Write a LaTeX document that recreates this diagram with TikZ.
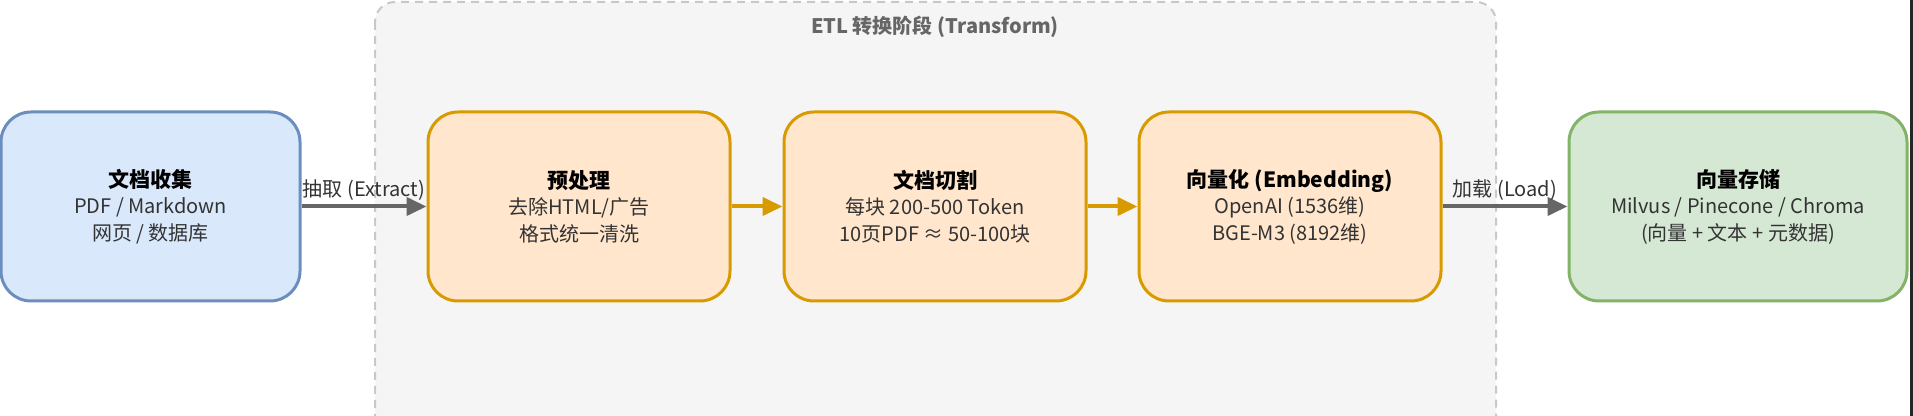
\documentclass[tikz,border=0pt]{standalone}
\usepackage{fontspec}
\setmainfont{Noto Sans CJK SC}
\usetikzlibrary{arrows.meta,positioning}
\definecolor{drawblue}{HTML}{6C8EBF}
\definecolor{fillblue}{HTML}{DAE8FC}
\definecolor{draworange}{HTML}{D79B00}
\definecolor{fillorange}{HTML}{FFE6CC}
\definecolor{drawgreen}{HTML}{82B366}
\definecolor{fillgreen}{HTML}{D5E8D4}
\definecolor{groupfill}{HTML}{F5F5F5}
\definecolor{groupline}{HTML}{C8C8C8}
\definecolor{linkgray}{HTML}{666666}
\definecolor{textgray}{HTML}{333333}

\begin{document}
\begin{tikzpicture}[
    x=0.5pt, y=-0.5pt,
    stage/.style={rectangle,rounded corners=15pt,line width=1.5pt,
      minimum height=94.5pt,align=center,text=textgray,
      font=\fontsize{10}{13.25}\selectfont},
    source/.style={stage,draw=drawblue,fill=fillblue,minimum width=149.5pt},
    etlstep/.style={stage,draw=draworange,fill=fillorange,minimum width=151pt},
    sink/.style={stage,draw=drawgreen,fill=fillgreen,minimum width=169pt},
    link/.style={-{Triangle[length=10pt,width=9pt]},line width=2pt,draw=linkgray},
    etllink/.style={link,draw=draworange},
    linklabel/.style={font=\fontsize{10}{12}\selectfont,text=textgray,
      inner sep=2pt}
  ]
    \useasboundingbox (0,0) rectangle (1913,416);

    % transform group
    \draw[groupline,fill=groupfill,line width=1pt,dash pattern=on 4pt off 3pt,
      rounded corners=10pt] (375,2) rectangle (1496,440);
    \node[font=\bfseries\fontsize{10}{12}\selectfont,text=linkgray] (etltitle)
      at (935,27) {ETL 转换阶段 (Transform)};

    \node[source] (collect) at (150.5,206.5)
      {{\bfseries\color{black}\fontsize{10.5}{13.25}\selectfont 文档收集}\\PDF / Markdown\\网页 / 数据库};
    \node[etlstep] (preproc) at (579,206.5)
      {{\bfseries\color{black}\fontsize{10.5}{13.25}\selectfont 预处理}\\去除HTML/广告\\格式统一清洗};
    \node[etlstep] (chunk) at (935,206.5)
      {{\bfseries\color{black}\fontsize{10.5}{13.25}\selectfont 文档切割}\\每块 200-500 Token\\10页PDF ≈ 50-100块};
    \node[etlstep] (embed) at (1290,206.5)
      {{\bfseries\color{black}\fontsize{10.5}{13.25}\selectfont 向量化 (Embedding)}\\OpenAI (1536维)\\BGE-M3 (8192维)};
    \node[sink] (store) at (1738,206.5)
      {{\bfseries\color{black}\fontsize{10.5}{13.25}\selectfont 向量存储}\\Milvus / Pinecone / Chroma\\(向量 + 文本 + 元数据)};

    \draw[link] (collect) -- node[linklabel,above] {抽取 (Extract)} (preproc);
    \draw[etllink] (preproc) -- (chunk);
    \draw[etllink] (chunk) -- (embed);
    \draw[link] (embed) -- node[linklabel,above] {加载 (Load)} (store);

    % window edge
    \fill[black!85] (1910,0) rectangle (1913,416);
  \end{tikzpicture}
\end{document}
